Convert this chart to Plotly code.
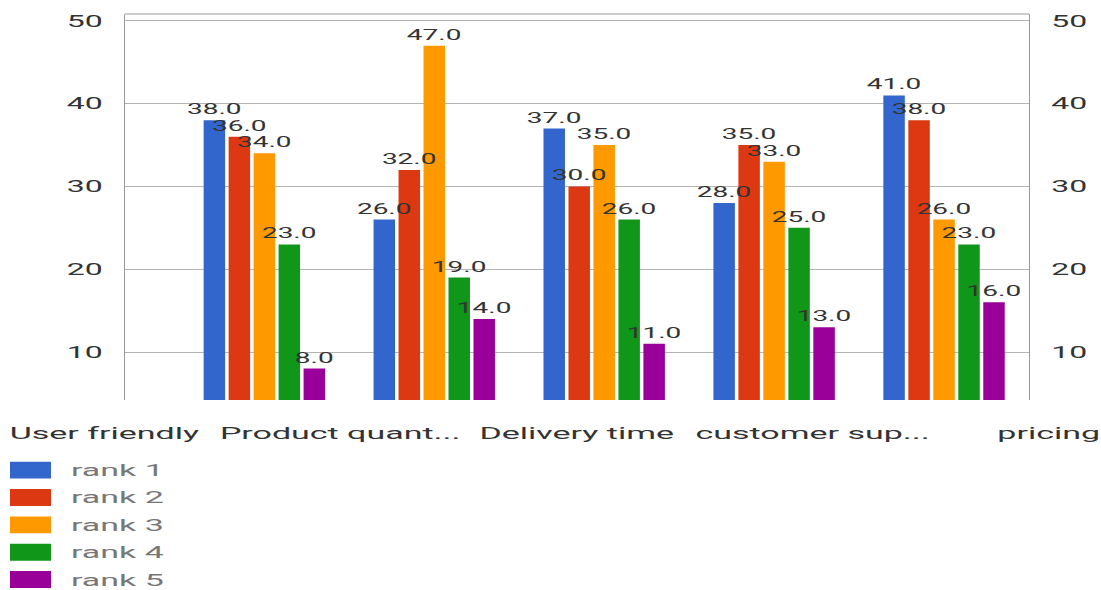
import plotly.graph_objects as go

# Survey results: count of respondents giving each rank per aspect
categories = ["User friendly", "Product quant...", "Delivery time", "customer sup...", "pricing"]
series_names = ["rank 1", "rank 2", "rank 3", "rank 4", "rank 5"]
rank1 = [38, 26, 37, 28, 41]
rank2 = [36, 32, 30, 35, 38]
rank3 = [34, 47, 35, 33, 26]
rank4 = [23, 19, 26, 25, 23]
rank5 = [8, 14, 11, 13, 16]
series_values = [rank1, rank2, rank3, rank4, rank5]
y_ticks = [10, 20, 30, 40, 50]

colors = ["#3366cc", "#dc3912", "#ff9900", "#109618", "#990099"]
FONT = "Roboto"

# plot-area geometry (pixels)
W, H = 1101, 590
ML, MR, MT, MB = 125, 72, 12, 190
PW, PH = W - ML - MR, H - MT - MB

x_pos = list(range(len(categories)))

fig = go.Figure()
for name, vals, col in zip(series_names, series_values, colors):
    fig.add_trace(go.Bar(
        x=x_pos, y=vals, name=name,
        marker=dict(color=col, line=dict(width=0)),
        texttemplate="%{y:.1f}", textposition="outside",
        textangle=0, constraintext="none", cliponaxis=False,
        textfont=dict(family=FONT, size=14, color="#333333"),
        showlegend=False, hoverinfo="skip",
    ))

# transparent helper so the right-hand value axis is rendered
fig.add_trace(go.Scatter(
    x=[x_pos[0]], y=[y_ticks[0]], yaxis="y2", mode="markers",
    marker=dict(opacity=0), showlegend=False, hoverinfo="skip",
))

y_range = [4.2, 50.84]

fig.update_layout(
    width=W, height=H,
    margin=dict(l=ML, r=MR, t=MT, b=MB),
    paper_bgcolor="white", plot_bgcolor="white",
    barmode="group", bargap=0.265, bargroupgap=0.14,
    font=dict(family=FONT, color="#333333"),
    xaxis=dict(range=[-0.82, 4.5], showticklabels=False, showgrid=False,
               zeroline=False, showline=False, ticks=""),
    yaxis=dict(range=y_range, tickvals=y_ticks, showgrid=True, gridcolor="#b4b4b4",
               gridwidth=1, zeroline=False, showline=True, linecolor="#999999",
               linewidth=1, ticks="", ticklabelstandoff=18,
               tickfont=dict(family=FONT, size=16, color="#333333")),
    yaxis2=dict(range=y_range, tickvals=y_ticks, overlaying="y", side="right",
                anchor="x", showgrid=False, zeroline=False, showline=True,
                linecolor="#999999", linewidth=1, ticks="", ticklabelstandoff=18,
                tickfont=dict(family=FONT, size=16, color="#333333")),
)

# top border of the chart frame
fig.add_shape(type="line", xref="paper", yref="paper", x0=0, x1=1, y0=1, y1=1,
              line=dict(color="#999999", width=1))

# category captions along the bottom
cap_first, cap_step = 104, 236.2
for i, cat in enumerate(categories):
    fig.add_annotation(
        text=cat, xref="paper", yref="paper",
        x=(cap_first + i * cap_step - ML) / PW, y=0,
        xanchor="center", yanchor="middle", yshift=-33, showarrow=False,
        font=dict(family=FONT, size=17, color="#333333"),
    )

# legend: wide colour swatches with labels underneath the chart
leg_x0, leg_x1, leg_text_x = 10, 51, 69
leg_y0, leg_step, leg_h = 470.5, 27.5, 17
for i, (name, col) in enumerate(zip(series_names, colors)):
    cy = leg_y0 + i * leg_step
    fig.add_shape(type="rect", xref="paper", yref="paper",
                  x0=(leg_x0 - ML) / PW, x1=(leg_x1 - ML) / PW,
                  y0=(MT + PH - (cy - leg_h / 2)) / PH, y1=(MT + PH - (cy + leg_h / 2)) / PH,
                  fillcolor=col, line=dict(width=0))
    fig.add_annotation(
        text=name, xref="paper", yref="paper",
        x=(leg_text_x - ML) / PW, y=(MT + PH - cy) / PH,
        xanchor="left", yanchor="middle", align="left", showarrow=False,
        font=dict(family=FONT, size=17, color="#777777"),
    )

# value labels above all bars, then widen every text glyph horizontally
# while keeping each label's anchor point fixed
stretch_js = """
var gd = document.getElementById('{plot_id}');
var layer = gd.querySelector('.barlayer');
if (layer) {
  var top = document.createElementNS('http://www.w3.org/2000/svg', 'g');
  layer.appendChild(top);
  layer.querySelectorAll('text.bartext').forEach(function(t){ top.appendChild(t); });
}
gd.querySelectorAll('svg text').forEach(function(t){
  var b = t.getBBox();
  if (!b.width) return;
  var a = t.getAttribute('text-anchor') || getComputedStyle(t).textAnchor || 'start';
  var cx = a === 'end' ? b.x + b.width : (a === 'middle' ? b.x + b.width / 2 : b.x);
  var tr = t.getAttribute('transform') || '';
  t.setAttribute('transform', tr + ' translate(' + cx + ',0) scale(2,1) translate(' + (-cx) + ',0)');
});
"""

fig.write_html("out.html", post_script=stretch_js)
